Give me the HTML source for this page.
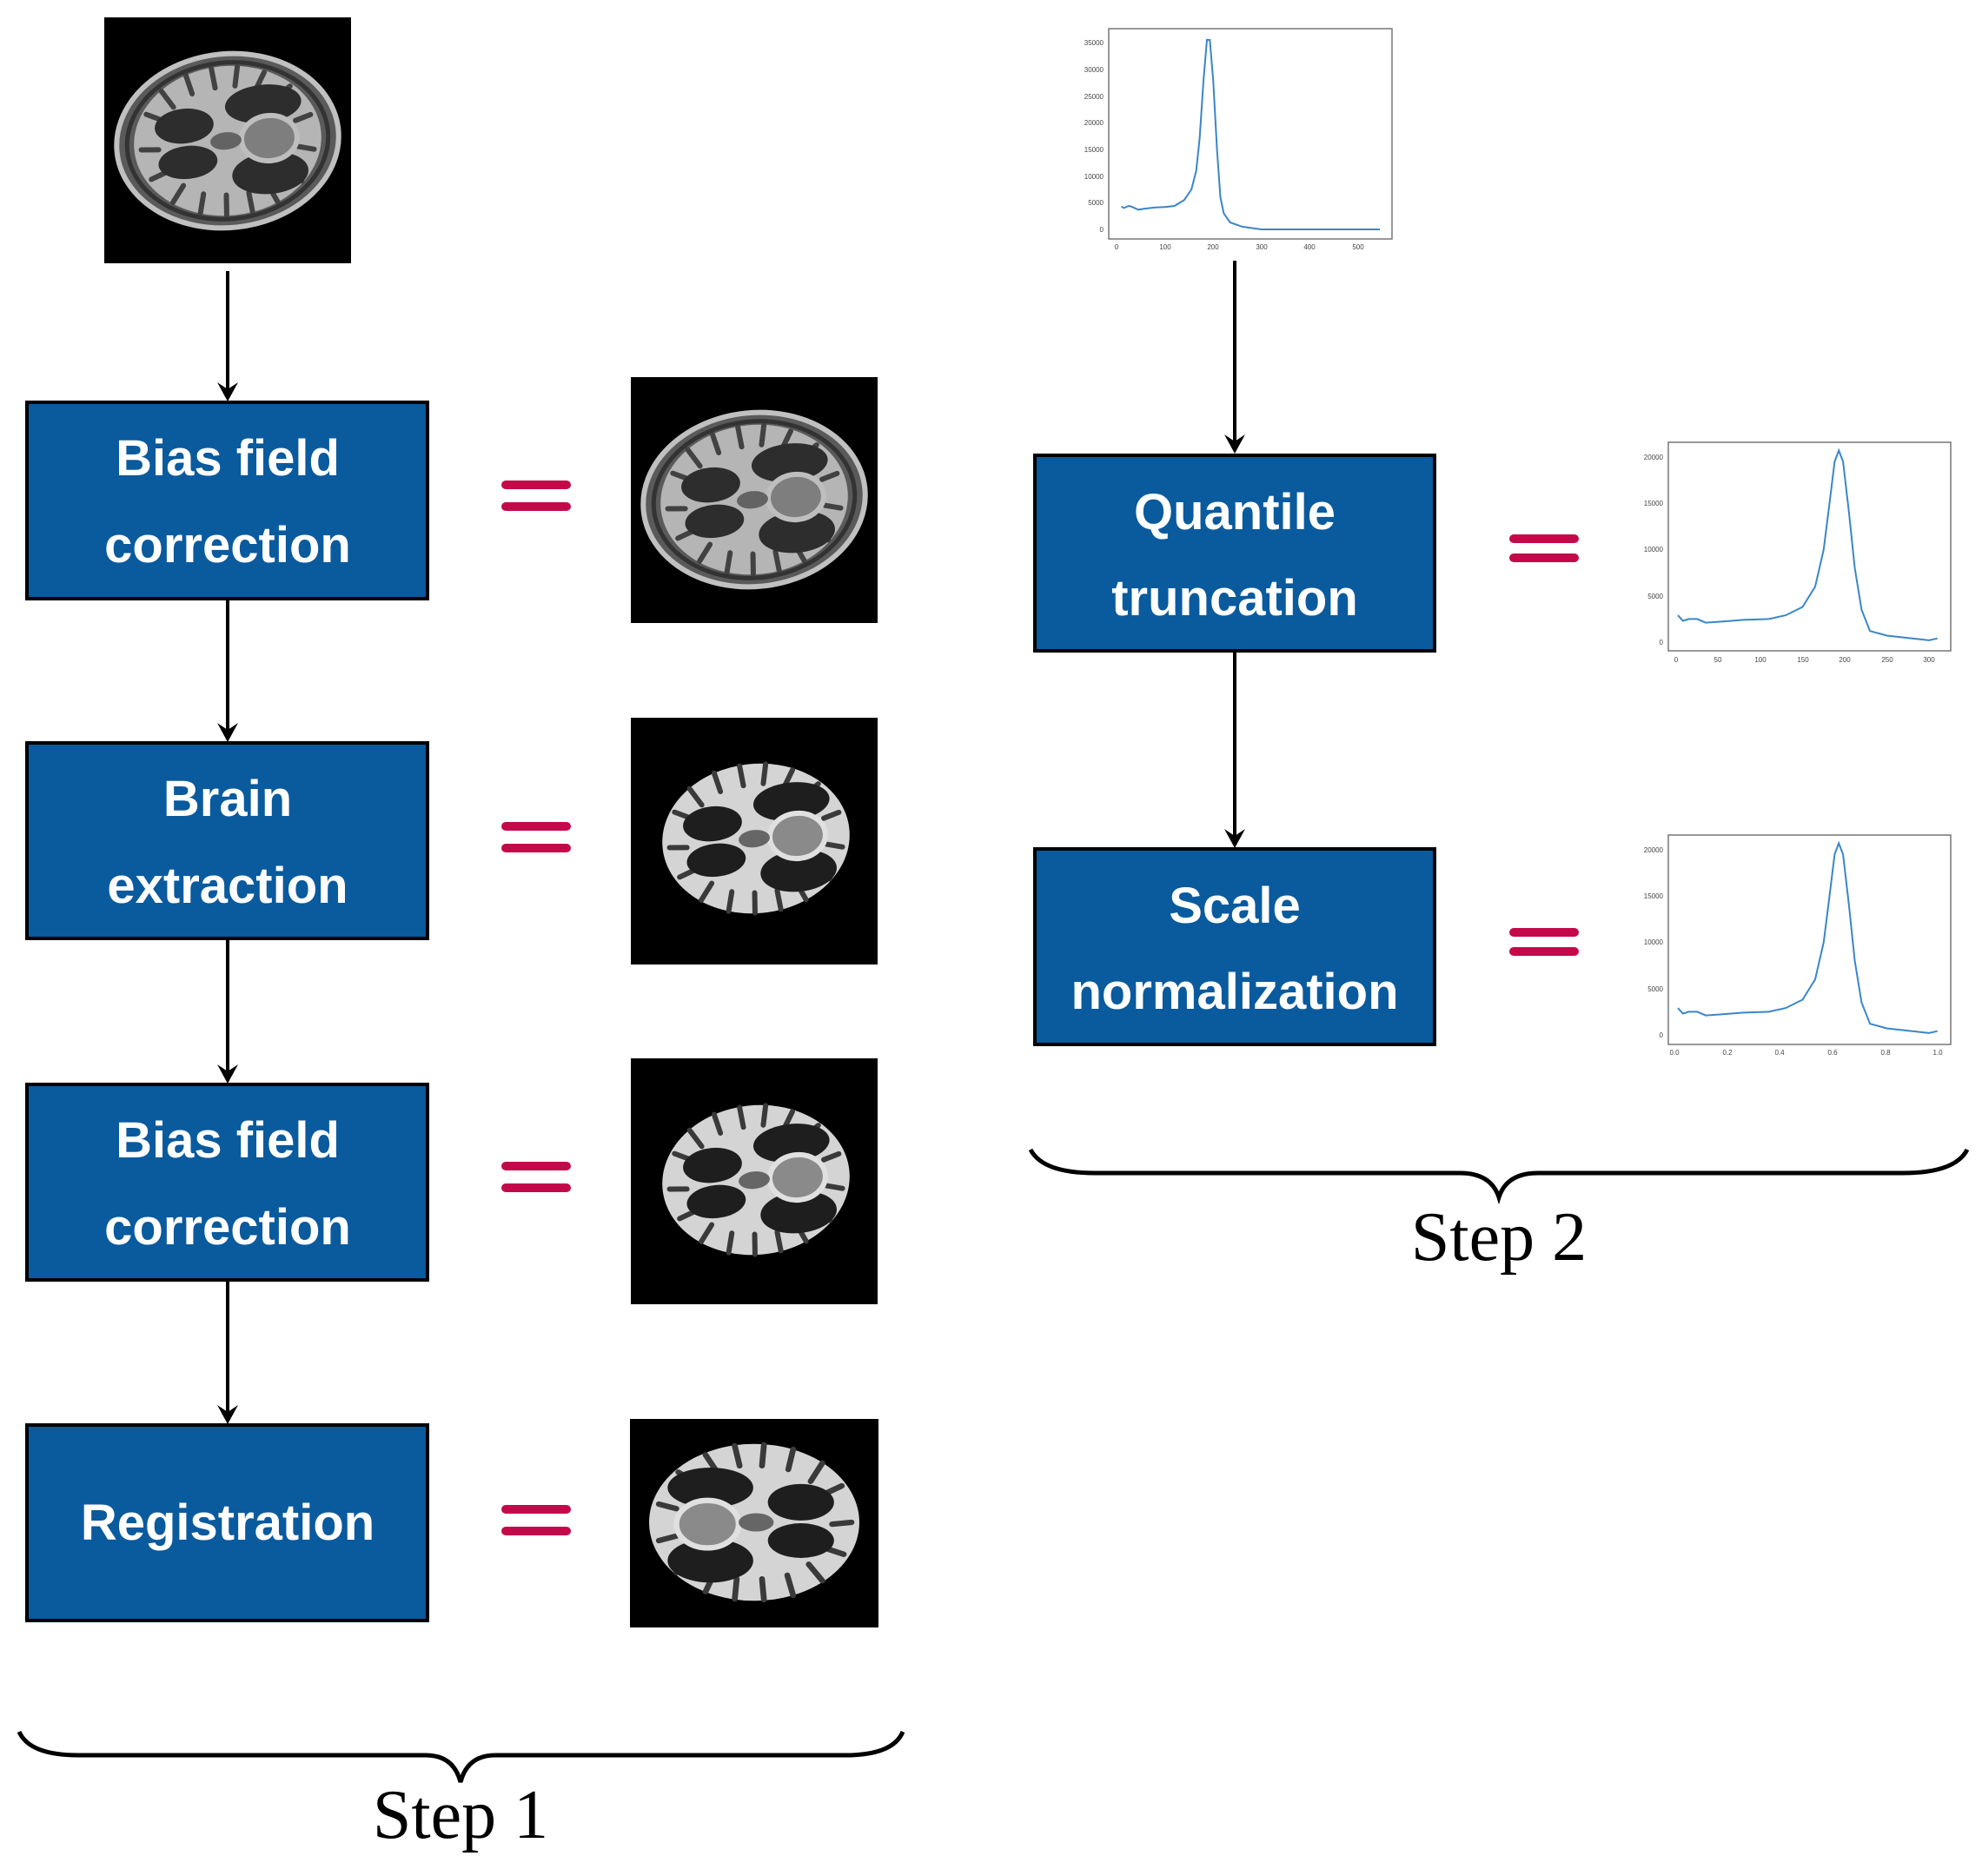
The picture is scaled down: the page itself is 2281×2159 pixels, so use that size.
<!DOCTYPE html>
<html><head><meta charset="utf-8"><style>
html,body{margin:0;padding:0;background:#fff;}
svg{display:block;}
.bx{fill:#0a5a9e;stroke:#000;stroke-width:4;}
.bt{font-family:"Liberation Sans","DejaVu Sans",sans-serif;font-weight:bold;font-size:58px;fill:#fff;text-anchor:middle;}
.st{font-family:"Liberation Serif",serif;font-size:80px;fill:#000;text-anchor:middle;}
.tk{font-family:"Liberation Sans",sans-serif;font-size:8px;fill:#444;}
.eq{stroke:#c4094a;stroke-width:10;stroke-linecap:round;}
.ar{stroke:#000;stroke-width:4;fill:none;}
.ah{fill:#000;}
.cv{fill:none;stroke:#3a86c8;stroke-width:2;}
</style></head><body>
<svg width="2281" height="2159" viewBox="0 0 2281 2159" xmlns="http://www.w3.org/2000/svg">
<defs>
<g id="core">
<ellipse cx="0" cy="0" rx="108" ry="86" fill="#d4d4d4"/>
<g stroke="#3a3a3a" stroke-width="6" stroke-linecap="round">
<line x1="-90" y1="-40" x2="-70" y2="-30"/><line x1="-70" y1="-65" x2="-58" y2="-45"/>
<line x1="-40" y1="-80" x2="-35" y2="-58"/><line x1="-10" y1="-85" x2="-8" y2="-62"/>
<line x1="20" y1="-84" x2="15" y2="-62"/><line x1="50" y1="-74" x2="40" y2="-58"/>
<line x1="78" y1="-55" x2="62" y2="-45"/><line x1="98" y1="-20" x2="80" y2="-15"/>
<line x1="98" y1="20" x2="80" y2="15"/><line x1="80" y1="55" x2="64" y2="45"/>
<line x1="50" y1="76" x2="42" y2="58"/><line x1="20" y1="84" x2="18" y2="62"/>
<line x1="-10" y1="85" x2="-8" y2="62"/><line x1="-40" y1="80" x2="-34" y2="58"/>
<line x1="-70" y1="64" x2="-56" y2="46"/><line x1="-92" y1="35" x2="-72" y2="28"/>
<line x1="-100" y1="0" x2="-80" y2="2"/>
</g>
<ellipse cx="-48" cy="-22" rx="34" ry="20" fill="#1e1e1e"/>
<ellipse cx="-48" cy="20" rx="34" ry="19" fill="#1e1e1e"/>
<ellipse cx="45" cy="-38" rx="44" ry="22" fill="#1e1e1e"/>
<ellipse cx="45" cy="42" rx="44" ry="24" fill="#1e1e1e"/>
<ellipse cx="48" cy="2" rx="32" ry="26" fill="#8a8a8a" stroke="#e0e0e0" stroke-width="6"/>
<ellipse cx="-2" cy="0" rx="18" ry="10" fill="#666"/>
</g>
<g id="raw">
<ellipse cx="0" cy="0" rx="128" ry="100" fill="#5a5a5a" stroke="#c0c0c0" stroke-width="6"/>
<ellipse cx="0" cy="0" rx="116" ry="90" fill="none" stroke="#333" stroke-width="5"/>
<g opacity="0.75"><use href="#core"/></g>
</g>
</defs>

<!-- Step 1 images -->
<rect x="120" y="20" width="284" height="283" fill="#000"/>
<g transform="translate(262,162) rotate(-6)"><use href="#raw"/></g>
<rect x="726" y="434" width="284" height="283" fill="#000"/>
<g transform="translate(868,575) rotate(-6)"><use href="#raw"/></g>
<rect x="726" y="826" width="284" height="284" fill="#000"/>
<g transform="translate(870,965) rotate(-6)"><use href="#core"/></g>
<rect x="726" y="1218" width="284" height="283" fill="#000"/>
<g transform="translate(870,1358) rotate(-6)"><use href="#core"/></g>
<rect x="725" y="1633" width="286" height="240" fill="#000"/>
<g transform="translate(868,1752) scale(-1.12,1.05)"><use href="#core"/></g>

<!-- Step 1 boxes -->
<rect class="bx" x="31" y="463" width="461" height="226"/>
<text class="bt" x="262" y="547">Bias field</text><text class="bt" x="262" y="647">correction</text>
<rect class="bx" x="31" y="855" width="461" height="225"/>
<text class="bt" x="262" y="939">Brain</text><text class="bt" x="262" y="1039">extraction</text>
<rect class="bx" x="31" y="1248" width="461" height="225"/>
<text class="bt" x="262" y="1332">Bias field</text><text class="bt" x="262" y="1432">correction</text>
<rect class="bx" x="31" y="1640" width="461" height="225"/>
<text class="bt" x="262" y="1772">Registration</text>

<!-- Step 1 arrows -->
<line class="ar" x1="262" y1="312" x2="262" y2="452"/><path class="ah" d="M262,462 L250,440 L262,448 L274,440 Z"/>
<line class="ar" x1="262" y1="689" x2="262" y2="844"/><path class="ah" d="M262,854 L250,832 L262,840 L274,832 Z"/>
<line class="ar" x1="262" y1="1080" x2="262" y2="1237"/><path class="ah" d="M262,1247 L250,1225 L262,1233 L274,1225 Z"/>
<line class="ar" x1="262" y1="1473" x2="262" y2="1629"/><path class="ah" d="M262,1639 L250,1617 L262,1625 L274,1617 Z"/>

<!-- equals left -->
<line class="eq" x1="582" y1="558" x2="652" y2="558"/><line class="eq" x1="582" y1="583" x2="652" y2="583"/>
<line class="eq" x1="582" y1="951" x2="652" y2="951"/><line class="eq" x1="582" y1="976" x2="652" y2="976"/>
<line class="eq" x1="582" y1="1342" x2="652" y2="1342"/><line class="eq" x1="582" y1="1367" x2="652" y2="1367"/>
<line class="eq" x1="582" y1="1737" x2="652" y2="1737"/><line class="eq" x1="582" y1="1762" x2="652" y2="1762"/>

<!-- Step 1 brace -->
<path d="M22,1993 Q34,2020 90,2020 L490,2020 Q522,2020 530,2051 Q538,2020 570,2020 L972,2020 Q1028,2020 1039,1993" fill="none" stroke="#000" stroke-width="5"/>
<text class="st" x="530" y="2115">Step 1</text>

<!-- Step 2 histogram 1 -->
<rect x="1276" y="33" width="326" height="242" fill="#fff" stroke="#777" stroke-width="1.5"/>
<polyline class="cv" points="1290.6,237.6 1293.3,239.4 1298.9,237 1301.7,237.6 1310,241.3 1318.4,240 1329.5,238.8 1340.6,238.2 1351.7,237 1362.8,230.2 1371.2,217.9 1376.7,196.4 1380.6,159.6 1385.1,92 1389,45.9 1392.3,45.9 1396.2,92 1400.6,171.9 1404.5,227.1 1408.4,245.6 1415.7,256 1429.6,260.9 1451.8,264 1588,264"/>
<g class="tk" text-anchor="end">
<text x="1270" y="52">35000</text><text x="1270" y="83">30000</text><text x="1270" y="114">25000</text><text x="1270" y="144">20000</text><text x="1270" y="175">15000</text><text x="1270" y="206">10000</text><text x="1270" y="236">5000</text><text x="1270" y="267">0</text>
</g>
<g class="tk" text-anchor="middle">
<text x="1285" y="287">0</text><text x="1341" y="287">100</text><text x="1396" y="287">200</text><text x="1452" y="287">300</text><text x="1507" y="287">400</text><text x="1563" y="287">500</text>
</g>
<line class="ar" x1="1421" y1="300" x2="1421" y2="512"/><path class="ah" d="M1421,522 L1409,500 L1421,508 L1433,500 Z"/>

<!-- Step 2 boxes -->
<rect class="bx" x="1191" y="524" width="460" height="225"/>
<text class="bt" x="1421" y="609">Quantile</text><text class="bt" x="1421" y="708">truncation</text>
<line class="ar" x1="1421" y1="749" x2="1421" y2="966"/><path class="ah" d="M1421,976 L1409,954 L1421,962 L1433,954 Z"/>
<rect class="bx" x="1191" y="977" width="460" height="225"/>
<text class="bt" x="1421" y="1062">Scale</text><text class="bt" x="1421" y="1161">normalization</text>

<line class="eq" x1="1742" y1="620" x2="1812" y2="620"/><line class="eq" x1="1742" y1="642" x2="1812" y2="642"/>
<line class="eq" x1="1742" y1="1073" x2="1812" y2="1073"/><line class="eq" x1="1742" y1="1095" x2="1812" y2="1095"/>

<!-- histogram 2 -->
<rect x="1920" y="509" width="325" height="240" fill="#fff" stroke="#777" stroke-width="1.5"/>
<polyline class="cv" points="1931,708.1 1936.8,714.5 1943.6,712.4 1953.3,712.4 1963,716.6 1977.5,715.6 2006.6,713.4 2035.7,712.4 2055.1,708.1 2074.5,698.5 2089,675.1 2098.8,632.5 2105.5,579.3 2111.4,531.3 2116.2,518.5 2121.1,531.3 2127.9,589.9 2134.6,653.8 2142.4,701.7 2152.1,726.2 2171.5,731.5 2220,736.9 2229.7,734.7"/>
<g class="tk" text-anchor="end">
<text x="1914" y="529">20000</text><text x="1914" y="582">15000</text><text x="1914" y="635">10000</text><text x="1914" y="689">5000</text><text x="1914" y="742">0</text>
</g>
<g class="tk" text-anchor="middle">
<text x="1929" y="762">0</text><text x="1977" y="762">50</text><text x="2026" y="762">100</text><text x="2075" y="762">150</text><text x="2123" y="762">200</text><text x="2172" y="762">250</text><text x="2220" y="762">300</text>
</g>

<!-- histogram 3 -->
<rect x="1920" y="961" width="325" height="241" fill="#fff" stroke="#777" stroke-width="1.5"/>
<g transform="translate(0,452)">
<polyline class="cv" points="1931,708.1 1936.8,714.5 1943.6,712.4 1953.3,712.4 1963,716.6 1977.5,715.6 2006.6,713.4 2035.7,712.4 2055.1,708.1 2074.5,698.5 2089,675.1 2098.8,632.5 2105.5,579.3 2111.4,531.3 2116.2,518.5 2121.1,531.3 2127.9,589.9 2134.6,653.8 2142.4,701.7 2152.1,726.2 2171.5,731.5 2220,736.9 2229.7,734.7"/>
<g class="tk" text-anchor="end">
<text x="1914" y="529">20000</text><text x="1914" y="582">15000</text><text x="1914" y="635">10000</text><text x="1914" y="689">5000</text><text x="1914" y="742">0</text>
</g>
<g class="tk" text-anchor="middle">
<text x="1927" y="762">0.0</text><text x="1988" y="762">0.2</text><text x="2048" y="762">0.4</text><text x="2109" y="762">0.6</text><text x="2170" y="762">0.8</text><text x="2230" y="762">1.0</text>
</g>
</g>

<!-- Step 2 brace -->
<path d="M1186,1323 Q1200,1350 1260,1350 L1680,1350 Q1716,1350 1725,1378 Q1734,1350 1770,1350 L2190,1350 Q2250,1350 2264,1323" fill="none" stroke="#000" stroke-width="5"/>
<text class="st" x="1725" y="1450">Step 2</text>
</svg>
</body></html>
